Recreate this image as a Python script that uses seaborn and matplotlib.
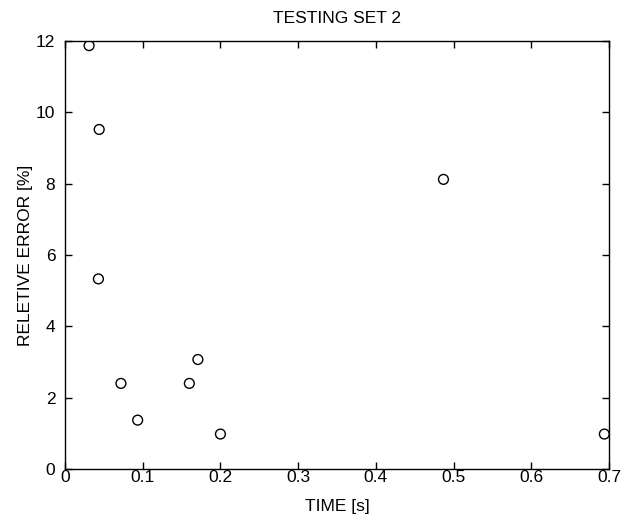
import matplotlib
matplotlib.use('Agg')
import matplotlib.pyplot as plt
import seaborn as sns
import pandas as pd

# values
time_s = [0.031, 0.044, 0.043, 0.072, 0.0935, 0.160, 0.171, 0.200, 0.487, 0.694]
rel_error = [11.87, 9.52, 5.33, 2.40, 1.37, 2.40, 3.07, 0.98, 8.12, 0.98]
x_ticks = [0, 0.1, 0.2, 0.3, 0.4, 0.5, 0.6, 0.7]
y_ticks = [0, 2, 4, 6, 8, 10, 12]

data = pd.DataFrame({'TIME': time_s, 'ERROR': rel_error})

sns.set_style('ticks', {'text.color': 'black', 'axes.labelcolor': 'black',
                        'xtick.color': 'black', 'ytick.color': 'black',
                        'axes.edgecolor': 'black'})
plt.rcParams['font.family'] = ['Liberation Sans', 'DejaVu Sans']
plt.rcParams['xtick.direction'] = 'in'
plt.rcParams['ytick.direction'] = 'in'

fig = plt.figure(figsize=(6.29, 5.21), dpi=100)
ax = fig.add_axes([65 / 629, 1 - 469 / 521, 544 / 629, 428 / 521])

sns.scatterplot(data=data, x='TIME', y='ERROR', ax=ax, marker='o', s=50,
                facecolor='none', edgecolor='black', linewidth=1.0)

ax.set_xlim(0, 0.7)
ax.set_ylim(0, 12)
ax.set_xticks(x_ticks)
ax.set_xticklabels(['0', '0.1', '0.2', '0.3', '0.4', '0.5', '0.6', '0.7'])
ax.set_yticks(y_ticks)
ax.tick_params(top=True, right=True, length=5, width=1, labelsize=12.5,
               colors='black')
ax.tick_params(axis='x', pad=1)
ax.tick_params(axis='y', pad=7)
for sp in ax.spines.values():
    sp.set_visible(True)
    sp.set_linewidth(1)
    sp.set_color('black')

ax.set_title('TESTING SET 2', fontsize=12.5, pad=13, color='black')
ax.set_xlabel('TIME [s]', fontsize=12.5, labelpad=10, color='black')
ax.set_ylabel('RELETIVE ERROR [%]', fontsize=12.5, labelpad=2, color='black')

fig.savefig('out.png', dpi=100)
